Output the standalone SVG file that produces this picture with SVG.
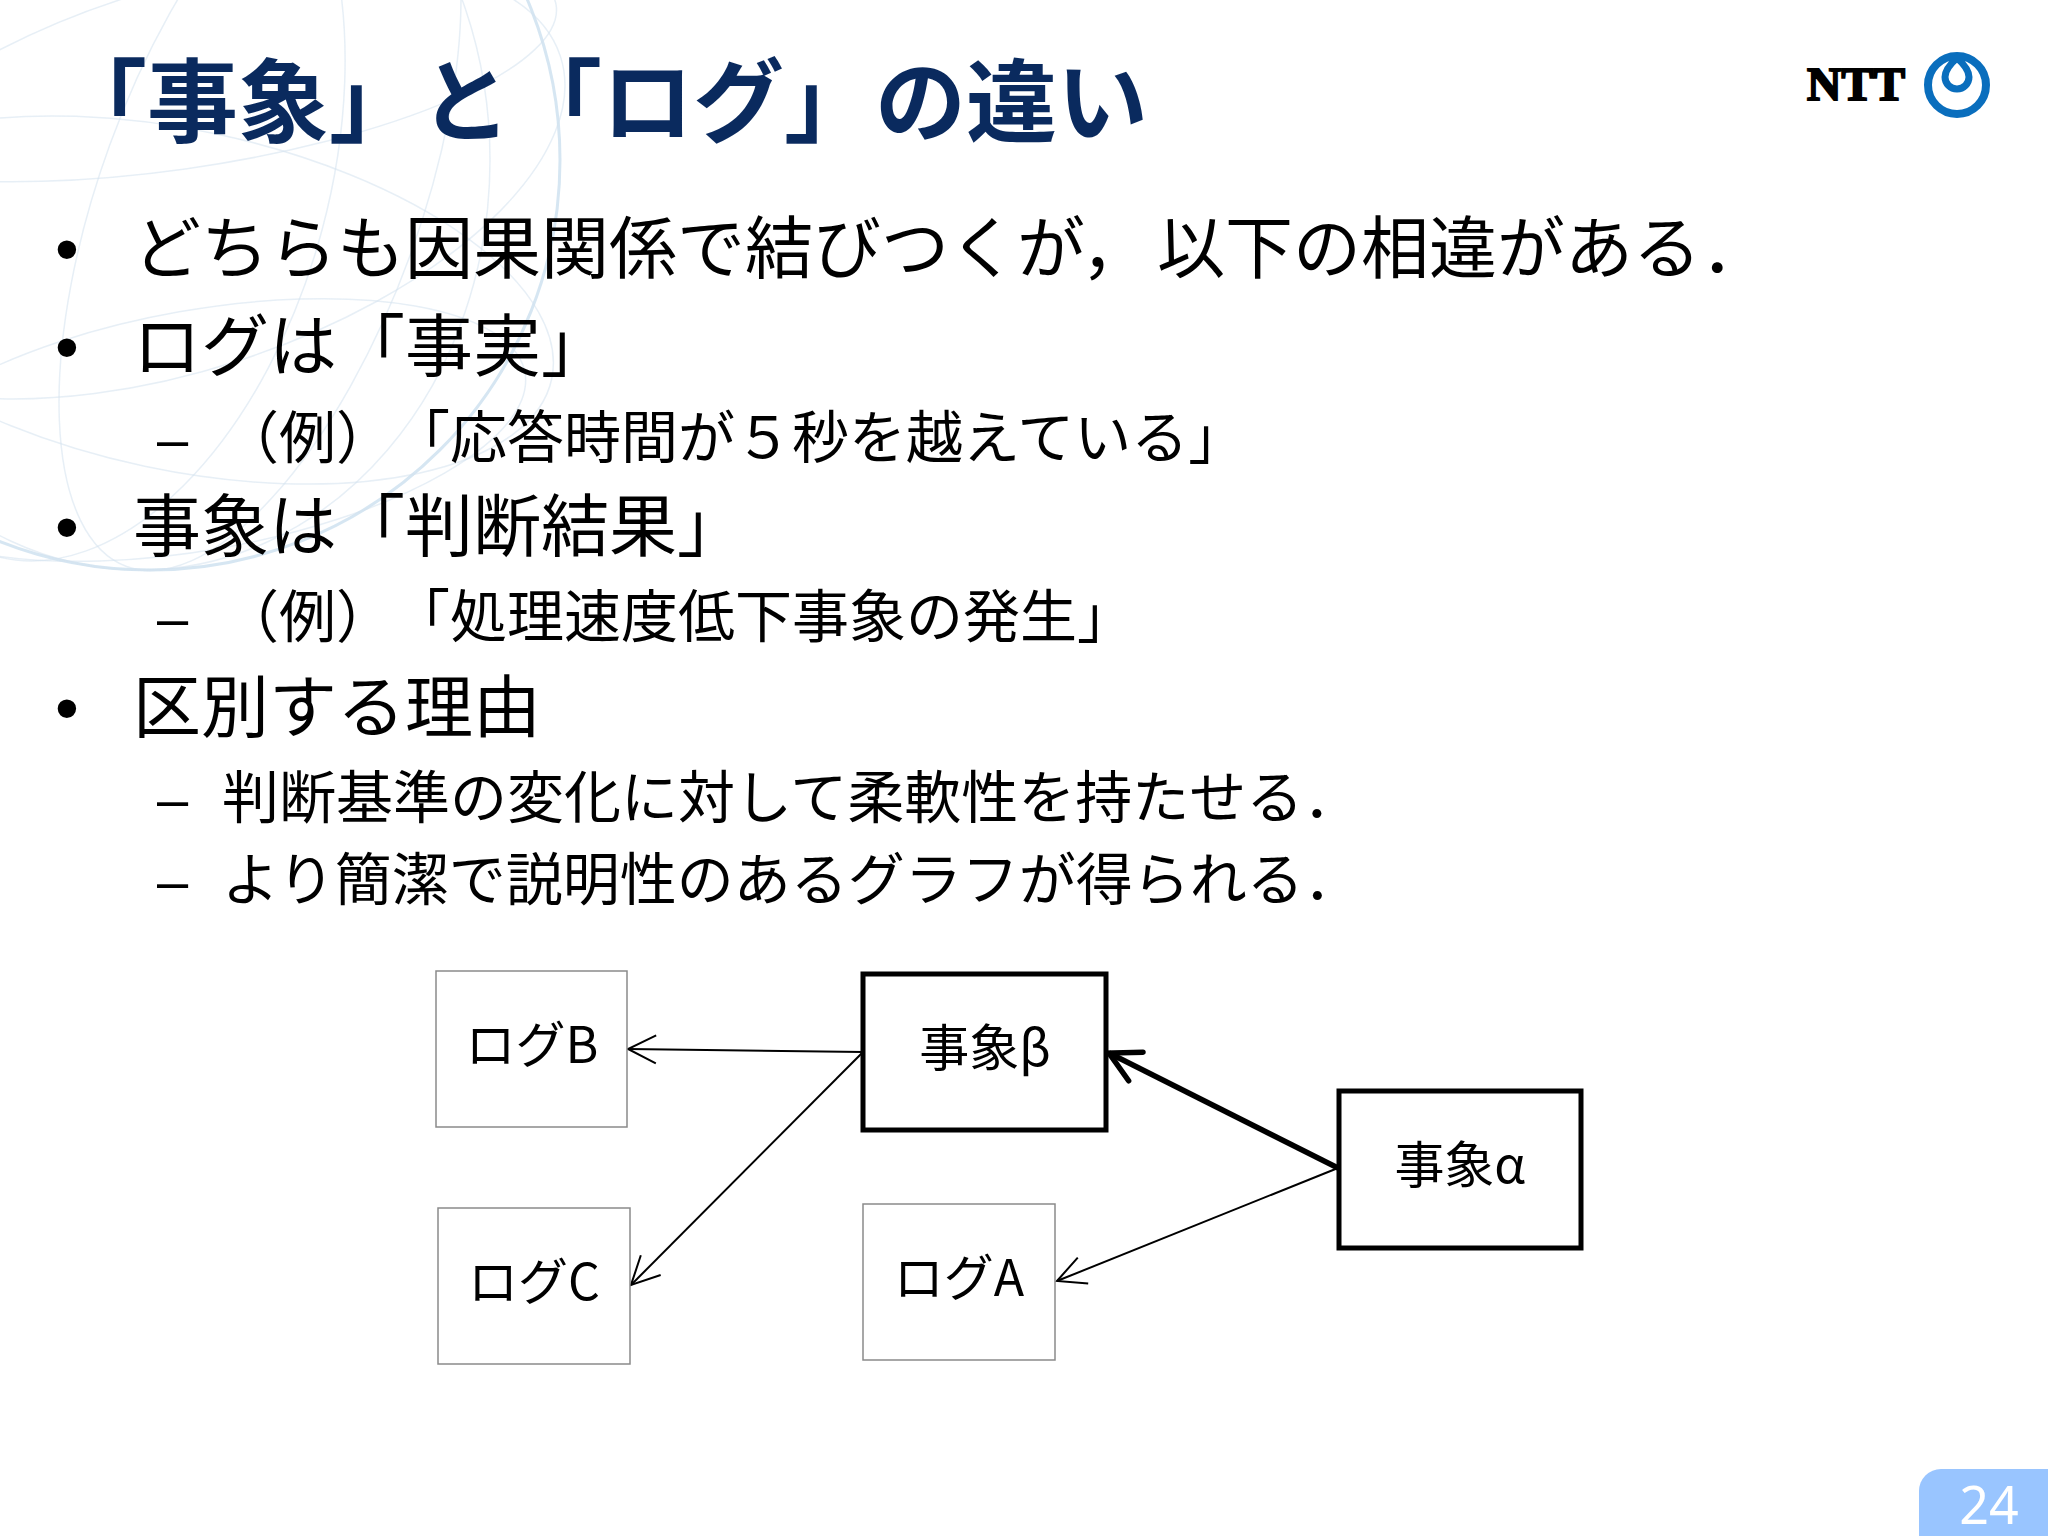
<svg xmlns="http://www.w3.org/2000/svg" width="2048" height="1536" viewBox="0 0 2048 1536">
<style>
text{font-family:"Noto Sans CJK JP","Noto Sans",sans-serif;fill:#000;text-spacing-trim:space-all}
.t{font-size:91px;font-weight:700;fill:#0a2a5e}
.b{font-size:68px;font-weight:400}
.s{font-size:57px;font-weight:400}
.d{font-size:56px;font-family:"Liberation Sans",sans-serif}
.p{font-size:68px;font-family:"Liberation Sans",sans-serif}
.n{font-size:50px;font-weight:400;text-anchor:middle}
.thin{fill:#fff;stroke:#8a8a8a;stroke-width:1.5}
.thick{fill:#fff;stroke:#000;stroke-width:5}
.c{fill:none;stroke:#000;stroke-width:2}
.c2{fill:none;stroke:#000;stroke-width:5.5}
.g{fill:none;stroke:#d3e2ee;stroke-width:1.5;opacity:.55}
</style>
<defs>
<marker id="a" markerUnits="userSpaceOnUse" markerWidth="40" markerHeight="40" refX="32" refY="20" orient="auto" viewBox="0 0 40 40"><path d="M4 6L32 20L4 34" fill="none" stroke="#000" stroke-width="2"/></marker>
<marker id="b" markerUnits="userSpaceOnUse" markerWidth="50" markerHeight="50" refX="38" refY="25" orient="auto" viewBox="0 0 50 50"><path d="M8 9L38 25L8 41" fill="none" stroke="#000" stroke-width="5.5" stroke-linecap="round"/></marker>
</defs>
<rect width="2048" height="1536" fill="#fff"/>
<g id="globe">
<circle class="g" cx="150" cy="160" r="410" style="stroke:#c4dcec;stroke-width:3;opacity:.7"/>
<ellipse class="g" cx="140" cy="160" rx="350" ry="410"/>
<ellipse class="g" cx="100" cy="170" rx="230" ry="400" transform="rotate(15 100 170)"/>
<ellipse class="g" cx="180" cy="180" rx="400" ry="190" transform="rotate(-18 180 180)"/>
<ellipse class="g" cx="180" cy="300" rx="380" ry="170" transform="rotate(12 180 300)"/>
<ellipse class="g" cx="170" cy="60" rx="390" ry="110" transform="rotate(-8 170 60)"/>
<ellipse class="g" cx="200" cy="430" rx="330" ry="120" transform="rotate(-10 200 430)"/>
<ellipse class="g" cx="260" cy="200" rx="160" ry="390" transform="rotate(20 260 200)"/>
</g>
<g id="title"><text class="t" x="56" y="135">「事象」と「ログ」の違い</text></g>
<g id="logo">
<text x="1807" y="100" style="font-family:'Liberation Serif',serif;font-size:46px;font-weight:700;stroke:#000;stroke-width:2" textLength="98" lengthAdjust="spacingAndGlyphs">NTT</text>
<circle cx="1957" cy="85" r="29" fill="none" stroke="#0a6ebd" stroke-width="8"/>
<path d="M1957 58C1948 66 1945 72 1945 77A12 12 0 0 0 1969 77C1969 72 1966 66 1957 58Z" fill="none" stroke="#0a6ebd" stroke-width="7"/>
</g>
<g id="body">
<text class="p" x="55" y="272">•</text>
<text class="b" x="133" y="273">どちらも因果関係で結びつくが，<tspan dx="8">以下の相違がある．</tspan></text>
<text class="p" x="55" y="370">•</text>
<text class="b" x="133" y="371">ログは「事実」</text>
<text class="d" x="157" y="458">–</text>
<text class="s" x="222" y="458">（例）「応答時間が５秒を越えている」</text>
<text class="p" x="55" y="550">•</text>
<text class="b" x="133" y="551">事象は「判断結果」</text>
<text class="d" x="157" y="637">–</text>
<text class="s" x="222" y="637">（例）「処理速度低下事象の発生」</text>
<text class="p" x="55" y="731">•</text>
<text class="b" x="133" y="732">区別する理由</text>
<text class="d" x="157" y="818">–</text>
<text class="s" x="222" y="818">判断基準の変化に対して柔軟性を持たせる．</text>
<text class="d" x="157" y="900">–</text>
<text class="s" x="222" y="900">より簡潔で説明性のあるグラフが得られる．</text>
</g>
<g id="connectors">
<line class="c" x1="863" y1="1052" x2="628" y2="1049" marker-end="url(#a)"/>
<line class="c" x1="863" y1="1052" x2="631" y2="1285" marker-end="url(#a)"/>
<line class="c" x1="1338" y1="1168" x2="1057" y2="1281" marker-end="url(#a)"/>
<line class="c2" x1="1338" y1="1168" x2="1109" y2="1053" marker-end="url(#b)"/>
</g>
<g id="logB"><rect class="thin" x="436" y="971" width="191" height="156"/><text class="n" x="532" y="1063">ログB</text></g>
<g id="eventBeta"><rect class="thick" x="863" y="974" width="243" height="156"/><text class="n" x="985" y="1066">事象β</text></g>
<g id="eventAlpha"><rect class="thick" x="1339" y="1091" width="242" height="157"/><text class="n" x="1460" y="1183">事象α</text></g>
<g id="logC"><rect class="thin" x="438" y="1208" width="192" height="156"/><text class="n" x="534" y="1300">ログC</text></g>
<g id="logA"><rect class="thin" x="863" y="1204" width="192" height="156"/><text class="n" x="959" y="1296">ログA</text></g>
<g id="page"><path d="M1919 1536V1491A22 22 0 0 1 1941 1469H2048V1536Z" fill="#99c5ff"/><text x="1989" y="1524" text-anchor="middle" style="font-family:'Noto Sans',sans-serif;font-size:52px;fill:#fff">24</text></g>
</svg>
